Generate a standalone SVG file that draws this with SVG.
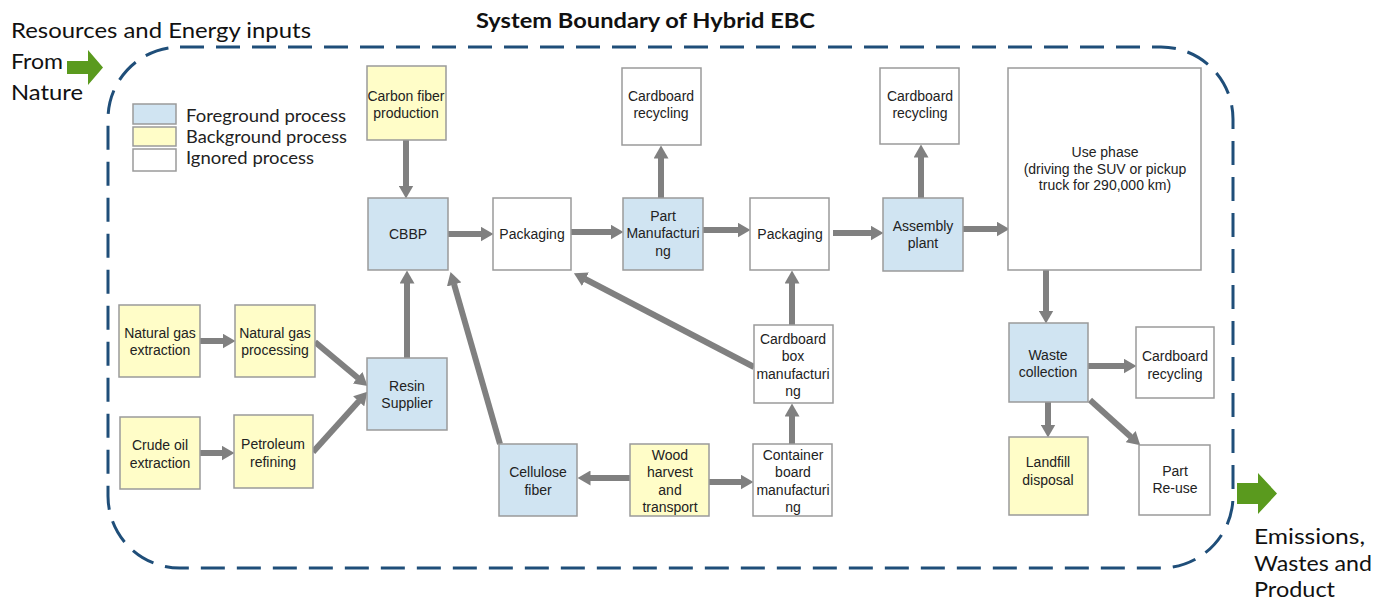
<svg xmlns="http://www.w3.org/2000/svg" width="1391" height="603" viewBox="0 0 1391 603">
<style>
.n{stroke:#9a9a9a;stroke-width:1.5}
.fg{fill:#D0E4F2}
.bg{fill:#FFFDC8}
.ig{fill:#ffffff}
.t{font-family:"Liberation Sans",Arial,sans-serif;font-size:14px;fill:#222;text-anchor:middle}
.c{fill:none;stroke:#808080;stroke-width:6;marker-end:url(#ah)}
.big{font-family:Lato,"Open Sans",sans-serif;font-size:22px;fill:#111}
.leg{font-family:Lato,"Open Sans",sans-serif;font-size:17.5px;fill:#222}
</style>
<defs>
<marker id="ah" markerUnits="userSpaceOnUse" markerWidth="13" markerHeight="15" viewBox="0 0 13 15" refX="0.5" refY="7.5" orient="auto">
<path d="M0,0 L13,7.5 L0,15 z" fill="#808080"/>
</marker>
</defs>
<rect width="1391" height="603" fill="#ffffff"/>

<g id="boundary">
<rect x="108" y="47" width="1125" height="521" rx="72" ry="72" fill="none" stroke="#1F4E79" stroke-width="3" stroke-dasharray="24,12"/>
<text x="476" y="28" font-family="Lato,'Open Sans',sans-serif" font-size="21.5" font-weight="bold" fill="#111" textLength="339" lengthAdjust="spacingAndGlyphs">System Boundary of Hybrid EBC</text>
</g>

<g id="inputs">
<text class="big" x="11" y="38" textLength="300" lengthAdjust="spacingAndGlyphs">Resources and Energy inputs</text>
<text class="big" x="11" y="69" textLength="52" lengthAdjust="spacingAndGlyphs">From</text>
<text class="big" x="11" y="100" textLength="72" lengthAdjust="spacingAndGlyphs">Nature</text>
<path d="M67,61 H88 V50 L103,67.5 L88,85 V74 H67 z" fill="#5A9A1E"/>
</g>

<g id="outputs">
<path d="M1237,483 H1258 V473 L1277,493.5 L1258,514 V504 H1237 z" fill="#5A9A1E"/>
<text class="big" x="1254" y="544" textLength="111" lengthAdjust="spacingAndGlyphs">Emissions,</text>
<text class="big" x="1254" y="571" textLength="118" lengthAdjust="spacingAndGlyphs">Wastes and</text>
<text class="big" x="1254" y="597" textLength="81" lengthAdjust="spacingAndGlyphs">Product</text>
</g>

<g id="legend">
<rect class="n fg" x="133" y="104" width="43" height="20"/>
<rect class="n bg" x="133" y="127" width="43" height="19"/>
<rect class="n ig" x="133" y="149" width="43" height="22"/>
<text class="leg" x="186" y="122" textLength="160" lengthAdjust="spacingAndGlyphs">Foreground process</text>
<text class="leg" x="186" y="143" textLength="161" lengthAdjust="spacingAndGlyphs">Background process</text>
<text class="leg" x="186" y="164" textLength="128" lengthAdjust="spacingAndGlyphs">Ignored process</text>
</g>

<g id="connectors">
<path class="c" d="M406,140 V186"/>
<path class="c" d="M407,358 V283"/>
<path class="c" d="M448,234 H481"/>
<path class="c" d="M571,232 H611"/>
<path class="c" d="M661,198 V158"/>
<path class="c" d="M703,230 H738"/>
<path class="c" d="M833,233 H871"/>
<path class="c" d="M921,198 V157"/>
<path class="c" d="M963,229 H997"/>
<path class="c" d="M1046,270 V311"/>
<path class="c" d="M1088,366 H1124"/>
<path class="c" d="M1048,402 V425"/>
<path class="c" d="M1090,400 L1131,437"/>
<path class="c" d="M200,341 H223"/>
<path class="c" d="M200,453 H222"/>
<path class="c" d="M315,342 L358,378"/>
<path class="c" d="M313,452 L359,401"/>
<path class="c" d="M500,444 L454,284"/>
<path class="c" d="M754,367 L585,279"/>
<path class="c" d="M792,444 V416"/>
<path class="c" d="M792,325 V283"/>
<path class="c" d="M630,478 H590"/>
<path class="c" d="M709,482 H741"/>
</g>

<g id="carbon-fiber">
<rect class="n bg" x="367" y="66" width="79" height="74"/>
<text class="t" x="406" y="101">Carbon fiber</text>
<text class="t" x="406" y="118">production</text>
</g>
<g id="cbbp">
<rect class="n fg" x="368" y="198" width="80" height="72"/>
<text class="t" x="408" y="239">CBBP</text>
</g>
<g id="packaging1">
<rect class="n ig" x="493" y="198" width="78" height="72"/>
<text class="t" x="532" y="239">Packaging</text>
</g>
<g id="part-manufacturing">
<rect class="n fg" x="623" y="198" width="80" height="72"/>
<text class="t" x="663" y="221">Part</text>
<text class="t" x="663" y="238">Manufacturi</text>
<text class="t" x="663" y="256">ng</text>
</g>
<g id="cardboard-recycling1">
<rect class="n ig" x="622" y="68" width="79" height="77"/>
<text class="t" x="661" y="101">Cardboard</text>
<text class="t" x="661" y="118">recycling</text>
</g>
<g id="packaging2">
<rect class="n ig" x="750" y="198" width="79" height="72"/>
<text class="t" x="790" y="239">Packaging</text>
</g>
<g id="assembly-plant">
<rect class="n fg" x="883" y="198" width="80" height="73"/>
<text class="t" x="923" y="231">Assembly</text>
<text class="t" x="923" y="248">plant</text>
</g>
<g id="cardboard-recycling2">
<rect class="n ig" x="880" y="68" width="79" height="76"/>
<text class="t" x="920" y="101">Cardboard</text>
<text class="t" x="920" y="118">recycling</text>
</g>
<g id="use-phase">
<rect class="n ig" x="1008" y="68" width="193" height="202"/>
<text class="t" x="1105" y="157">Use phase</text>
<text class="t" x="1105" y="174">(driving the SUV  or pickup</text>
<text class="t" x="1105" y="190">truck for 290,000 km)</text>
</g>
<g id="natural-gas-extraction">
<rect class="n bg" x="119" y="305" width="81" height="72"/>
<text class="t" x="160" y="338">Natural gas</text>
<text class="t" x="160" y="355">extraction</text>
</g>
<g id="natural-gas-processing">
<rect class="n bg" x="235" y="305" width="80" height="72"/>
<text class="t" x="275" y="338">Natural gas</text>
<text class="t" x="275" y="355">processing</text>
</g>
<g id="resin-supplier">
<rect class="n fg" x="367" y="358" width="80" height="72"/>
<text class="t" x="407" y="391">Resin</text>
<text class="t" x="407" y="408">Supplier</text>
</g>
<g id="crude-oil-extraction">
<rect class="n bg" x="120" y="417" width="80" height="72"/>
<text class="t" x="160" y="450">Crude oil</text>
<text class="t" x="160" y="468">extraction</text>
</g>
<g id="petroleum-refining">
<rect class="n bg" x="234" y="415" width="79" height="73"/>
<text class="t" x="273" y="449">Petroleum</text>
<text class="t" x="273" y="467">refining</text>
</g>
<g id="cellulose-fiber">
<rect class="n fg" x="499" y="444" width="78" height="72"/>
<text class="t" x="538" y="477">Cellulose</text>
<text class="t" x="538" y="495">fiber</text>
</g>
<g id="wood-harvest">
<rect class="n bg" x="630" y="444" width="79" height="72"/>
<text class="t" x="670" y="460">Wood</text>
<text class="t" x="670" y="477">harvest</text>
<text class="t" x="670" y="495">and</text>
<text class="t" x="670" y="512">transport</text>
</g>
<g id="container-board">
<rect class="n ig" x="753" y="444" width="79" height="72"/>
<text class="t" x="793" y="460">Container</text>
<text class="t" x="793" y="477">board</text>
<text class="t" x="793" y="495">manufacturi</text>
<text class="t" x="793" y="512">ng</text>
</g>
<g id="cardboard-box">
<rect class="n ig" x="754" y="325" width="79" height="78"/>
<text class="t" x="793" y="344">Cardboard</text>
<text class="t" x="793" y="361">box</text>
<text class="t" x="793" y="379">manufacturi</text>
<text class="t" x="793" y="396">ng</text>
</g>
<g id="waste-collection">
<rect class="n fg" x="1009" y="323" width="79" height="79"/>
<text class="t" x="1048" y="360">Waste</text>
<text class="t" x="1048" y="377">collection</text>
</g>
<g id="cardboard-recycling3">
<rect class="n ig" x="1136" y="327" width="78" height="71"/>
<text class="t" x="1175" y="361">Cardboard</text>
<text class="t" x="1175" y="379">recycling</text>
</g>
<g id="landfill">
<rect class="n bg" x="1009" y="437" width="79" height="78"/>
<text class="t" x="1048" y="467">Landfill</text>
<text class="t" x="1048" y="485">disposal</text>
</g>
<g id="part-reuse">
<rect class="n ig" x="1139" y="445" width="71" height="70"/>
<text class="t" x="1175" y="476">Part</text>
<text class="t" x="1175" y="493">Re-use</text>
</g>
</svg>
